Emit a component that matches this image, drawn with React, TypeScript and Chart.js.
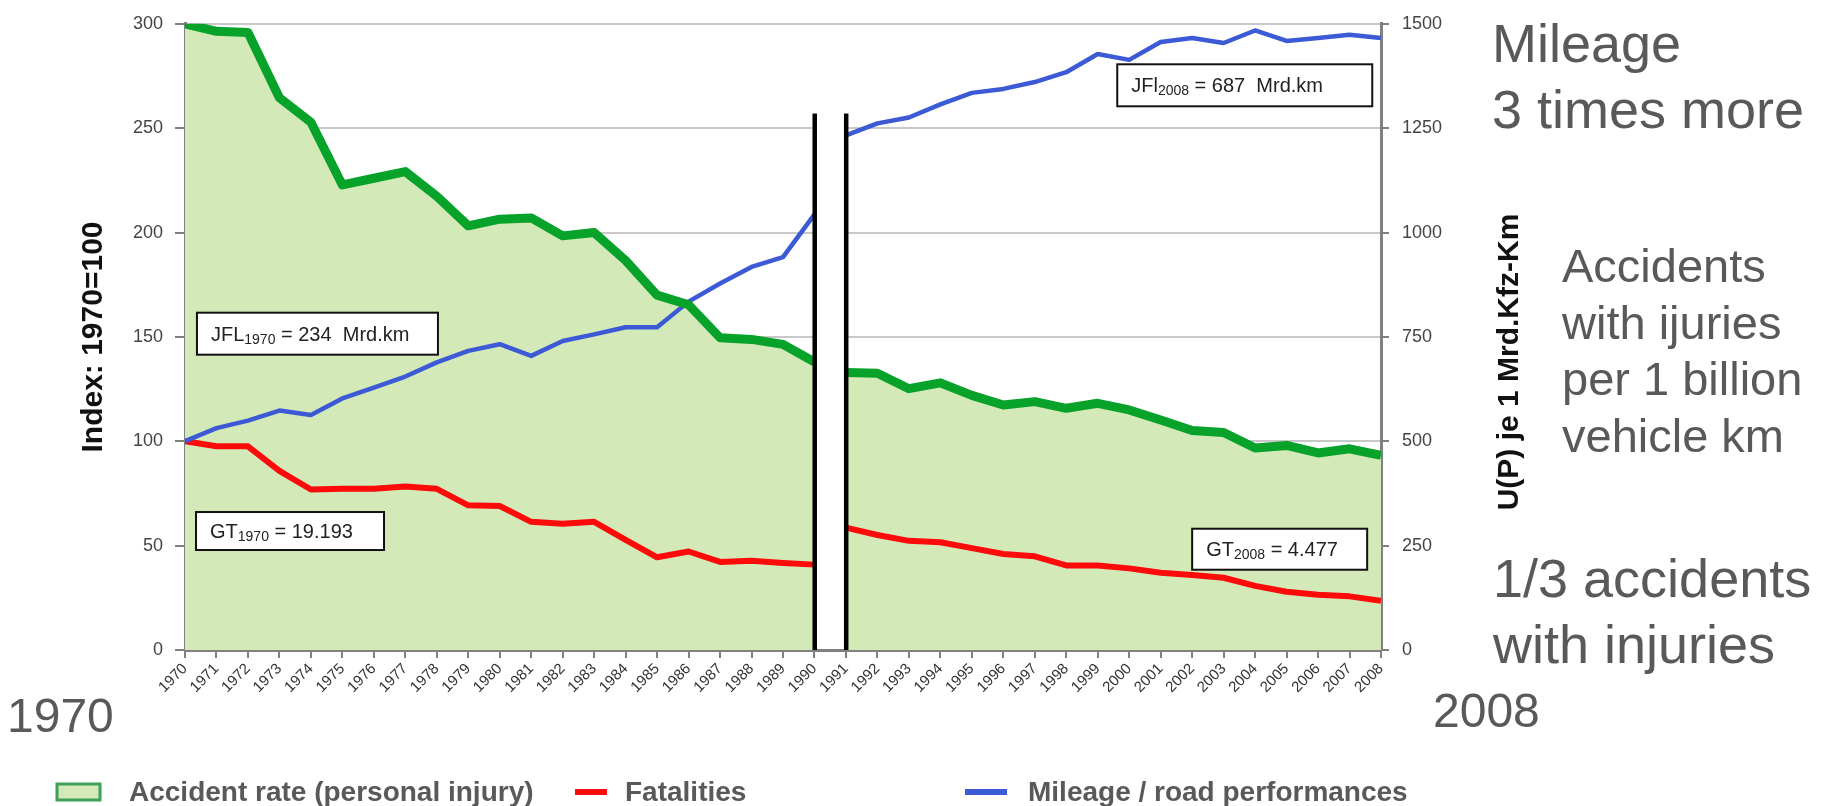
import React, { useEffect, useRef } from 'react';
import { Chart, registerables } from 'chart.js';

Chart.register(...registerables);

// ---------- data ----------
const years = [
  1970, 1971, 1972, 1973, 1974, 1975, 1976, 1977, 1978, 1979,
  1980, 1981, 1982, 1983, 1984, 1985, 1986, 1987, 1988, 1989,
  1990, 1991, 1992, 1993, 1994, 1995, 1996, 1997, 1998, 1999,
  2000, 2001, 2002, 2003, 2004, 2005, 2006, 2007, 2008,
];

// U(P) per 1 billion vehicle km (right axis)
const accidentRate = [
  1500, 1482, 1479, 1323, 1264, 1114, 1130, 1146, 1087, 1016,
  1032, 1035, 992, 1000, 933, 850, 827, 748, 744, 732,
  690, 665, 663, 626, 640, 610, 587, 595, 579, 591,
  575, 551, 526, 521, 484, 490, 472, 482, 466,
];

// Index 1970 = 100 (left axis)
const fatalities = [
  100, 97.6, 97.6, 85.8, 76.9, 77.2, 77.2, 78.3, 77.2, 69.3,
  69.0, 61.4, 60.5, 61.4, 52.8, 44.4, 47.2, 42.2, 42.8, 41.7,
  40.9, 58.6, 55.1, 52.3, 51.6, 48.8, 46.0, 44.9, 40.5, 40.5,
  39.1, 37.0, 35.9, 34.6, 30.7, 27.9, 26.5, 25.7, 23.6,
];

const mileage = [
  100, 106.3, 109.9, 114.7, 112.6, 120.5, 125.7, 131.0, 137.8, 143.3,
  146.5, 140.9, 148.0, 151.2, 154.6, 154.6, 166.9, 175.6, 183.5, 188.2,
  208.7, 246.5, 252.3, 255.1, 261.4, 266.9, 268.8, 272.1, 276.8, 285.5,
  282.7, 291.3, 293.2, 290.8, 296.8, 291.8, 293.2, 294.8, 293.2,
];

const seriesLabels = [
  'Accident rate (personal injury)',
  'Fatalities',
  'Mileage / road performances',
];

const leftTicks = { min: 0, max: 300, step: 50 };
const rightTicks = { min: 0, max: 1500, step: 250 };

// series break (German reunification) between these years
const breakAfterYear = 1990;
const breakBeforeYear = 1991;
const breakBarTop = 257; // left-axis value of the top of the break bars

// boxed annotations: anchor in data coords (year, left-axis index)
const boxNotes = [
  { main: 'JFL', sub: '1970', rest: ' = 234  Mrd.km', x: 1970.38, y: 161.6, w: 241, h: 42 },
  { main: 'GT', sub: '1970', rest: ' = 19.193', x: 1970.35, y: 66.1, w: 188, h: 38 },
  { main: 'JFl', sub: '2008', rest: ' = 687  Mrd.km', x: 1999.62, y: 280.6, w: 255, h: 42 },
  { main: 'GT', sub: '2008', rest: ' = 4.477', x: 2002.0, y: 58.1, w: 175, h: 41 },
];

const FONT = '"Liberation Sans", Arial, Helvetica, sans-serif';

function toPoints(vals: number[]) {
  const pts: { x: number; y: number | null }[] = [];
  years.forEach((yr, i) => {
    pts.push({ x: yr, y: vals[i] });
    if (yr === breakAfterYear) pts.push({ x: (breakAfterYear + breakBeforeYear) / 2, y: null });
  });
  return pts;
}

const decorPlugin = {
  id: 'decor',
  beforeDatasetsDraw(chart: any) {
    const { ctx, chartArea, scales } = chart;
    const x0 = scales.x.getPixelForValue(breakAfterYear);
    const x1 = scales.x.getPixelForValue(breakBeforeYear);
    const top = scales.y.getPixelForValue(breakBarTop);
    ctx.save();
    ctx.fillStyle = '#ffffff';
    ctx.fillRect(x0, top, x1 - x0, chartArea.bottom - 1.5 - top);
    ctx.restore();
  },
  afterDatasetsDraw(chart: any) {
    const { ctx, chartArea, scales } = chart;
    const x0 = scales.x.getPixelForValue(breakAfterYear);
    const x1 = scales.x.getPixelForValue(breakBeforeYear);
    const top = scales.y.getPixelForValue(breakBarTop);
    ctx.save();
    ctx.fillStyle = '#000000';
    ctx.fillRect(x0 - 2, top, 4.5, chartArea.bottom - top);
    ctx.fillRect(x1 - 2, top, 4.5, chartArea.bottom - top);

    // boxed annotations
    boxNotes.forEach((n) => {
      const bx = scales.x.getPixelForValue(n.x);
      const by = scales.y.getPixelForValue(n.y);
      ctx.fillStyle = '#ffffff';
      ctx.fillRect(bx, by, n.w, n.h);
      ctx.strokeStyle = '#111111';
      ctx.lineWidth = 2;
      ctx.strokeRect(bx, by, n.w, n.h);
      const base = by + n.h / 2 + 7;
      let tx = bx + 14;
      ctx.fillStyle = '#222222';
      ctx.textAlign = 'left';
      ctx.textBaseline = 'alphabetic';
      ctx.font = `20px ${FONT}`;
      ctx.fillText(n.main, tx, base);
      tx += ctx.measureText(n.main).width;
      ctx.font = `14px ${FONT}`;
      ctx.fillText(n.sub, tx, base + 3);
      tx += ctx.measureText(n.sub).width;
      ctx.font = `20px ${FONT}`;
      ctx.fillText(n.rest, tx, base);
    });
    ctx.restore();
  },
  afterDraw(chart: any) {
    const { ctx } = chart;
    const ds = chart.data.datasets;
    ctx.save();

    // axis titles
    ctx.fillStyle = '#111111';
    ctx.font = `bold 30px ${FONT}`;
    ctx.textAlign = 'center';
    ctx.textBaseline = 'middle';
    ctx.save();
    ctx.translate(94, 337);
    ctx.rotate(-Math.PI / 2);
    ctx.fillText('Index: 1970=100', 0, 0);
    ctx.restore();
    ctx.save();
    ctx.translate(1510, 362);
    ctx.rotate(-Math.PI / 2);
    ctx.fillText('U(P) je 1 Mrd.Kfz-Km', 0, 0);
    ctx.restore();

    // big side annotations
    ctx.fillStyle = '#595959';
    ctx.textAlign = 'left';
    ctx.textBaseline = 'alphabetic';
    ctx.font = `54px ${FONT}`;
    ctx.fillText('Mileage', 1492, 62);
    ctx.fillText('3 times more', 1492, 128);
    ctx.fillText('1/3 accidents', 1493, 597);
    ctx.fillText('with injuries', 1493, 663);
    ctx.font = `47px ${FONT}`;
    ['Accidents', 'with ijuries', 'per 1 billion', 'vehicle km'].forEach((t, i) => {
      ctx.fillText(t, 1562, 282 + i * 56.7);
    });
    ctx.font = `48px ${FONT}`;
    ctx.fillText('2008', 1433, 727);
    ctx.fillText('1970', 7, 732);

    // legend
    const ly = 792;
    ctx.font = `bold 28px ${FONT}`;
    ctx.textBaseline = 'middle';
    // item 1: filled box
    ctx.fillStyle = ds[0].backgroundColor;
    ctx.fillRect(57, ly - 8, 43, 16);
    ctx.strokeStyle = '#3f9e5a';
    ctx.lineWidth = 3;
    ctx.strokeRect(57, ly - 8, 43, 16);
    ctx.fillStyle = '#595959';
    ctx.fillText(ds[0].label, 129, ly + 1);
    // item 2: red line
    ctx.strokeStyle = ds[1].borderColor;
    ctx.lineWidth = 6;
    ctx.beginPath();
    ctx.moveTo(575, ly);
    ctx.lineTo(607, ly);
    ctx.stroke();
    ctx.fillStyle = '#595959';
    ctx.fillText(ds[1].label, 625, ly + 1);
    // item 3: blue line
    ctx.strokeStyle = ds[2].borderColor;
    ctx.beginPath();
    ctx.moveTo(965, ly);
    ctx.lineTo(1007, ly);
    ctx.stroke();
    ctx.fillStyle = '#595959';
    ctx.fillText(ds[2].label, 1028, ly + 1);

    ctx.restore();
  },
};

export default function App() {
  const ref = useRef<HTMLCanvasElement>(null);

  useEffect(() => {
    document.body.style.margin = '0';
    document.body.style.overflow = 'hidden';
    Chart.defaults.font.family = FONT;
    const canvas = ref.current!;
    const chart = new Chart(canvas, {
      type: 'line',
      data: {
        datasets: [
          {
            label: seriesLabels[0],
            data: toPoints(accidentRate),
            yAxisID: 'y1',
            borderColor: '#06a22a',
            backgroundColor: '#d3eab8',
            borderWidth: 9,
            fill: 'origin',
            pointRadius: 0,
            tension: 0,
            borderJoinStyle: 'round',
            order: 0,
          },
          {
            label: seriesLabels[1],
            data: toPoints(fatalities),
            yAxisID: 'y',
            borderColor: '#ff0a0a',
            borderWidth: 6,
            fill: false,
            pointRadius: 0,
            tension: 0,
            borderJoinStyle: 'round',
            order: 2,
          },
          {
            label: seriesLabels[2],
            data: toPoints(mileage),
            yAxisID: 'y',
            borderColor: '#3c5ad6',
            borderWidth: 4.5,
            fill: false,
            pointRadius: 0,
            tension: 0,
            borderJoinStyle: 'round',
            order: 1,
          },
        ],
      } as any,
      options: {
        responsive: false,
        animation: false,
        devicePixelRatio: 1,
        layout: { padding: { top: 15, left: 0, right: 0, bottom: 0 } },
        plugins: {
          legend: { display: false },
          tooltip: { enabled: false },
          filler: { drawTime: 'beforeDatasetsDraw' },
        } as any,
        scales: {
          x: {
            type: 'linear',
            min: years[0],
            max: years[years.length - 1],
            afterFit: (s: any) => { s.height = 156; },
            afterBuildTicks: (s: any) => { s.ticks = years.map((v) => ({ value: v })); },
            ticks: {
              autoSkip: false,
              maxRotation: 45,
              minRotation: 45,
              padding: 2,
              color: '#333333',
              font: { size: 15 },
              callback: (v: any) => String(v),
            },
            grid: { drawOnChartArea: false, tickLength: 8, color: '#808080', lineWidth: 2 },
            border: { color: '#808080', width: 3 },
          },
          y: {
            position: 'left',
            min: leftTicks.min,
            max: leftTicks.max,
            afterFit: (s: any) => { s.width = 185; },
            ticks: {
              stepSize: leftTicks.step,
              padding: 12,
              color: '#444444',
              font: { size: 18 },
              callback: (v: any) => String(v),
            },
            grid: { color: '#c8c8c8', lineWidth: 2, tickLength: 10, tickColor: '#808080' },
            border: { color: '#808080', width: 3 },
          },
          y1: {
            position: 'right',
            min: rightTicks.min,
            max: rightTicks.max,
            afterFit: (s: any) => { s.width = 1827 - 1381; },
            ticks: {
              stepSize: rightTicks.step,
              padding: 13,
              color: '#444444',
              font: { size: 18 },
              callback: (v: any) => String(v),
            },
            grid: { drawOnChartArea: false, tickLength: 8, color: '#808080', lineWidth: 2 },
            border: { color: '#808080', width: 3 },
          },
        } as any,
      },
      plugins: [decorPlugin as any],
    });
    return () => chart.destroy();
  }, []);

  return (
    <div style={{ width: 1827, height: 806, overflow: 'hidden' }}>
      <canvas ref={ref} width={1827} height={806} style={{ display: 'block' }} />
    </div>
  );
}
